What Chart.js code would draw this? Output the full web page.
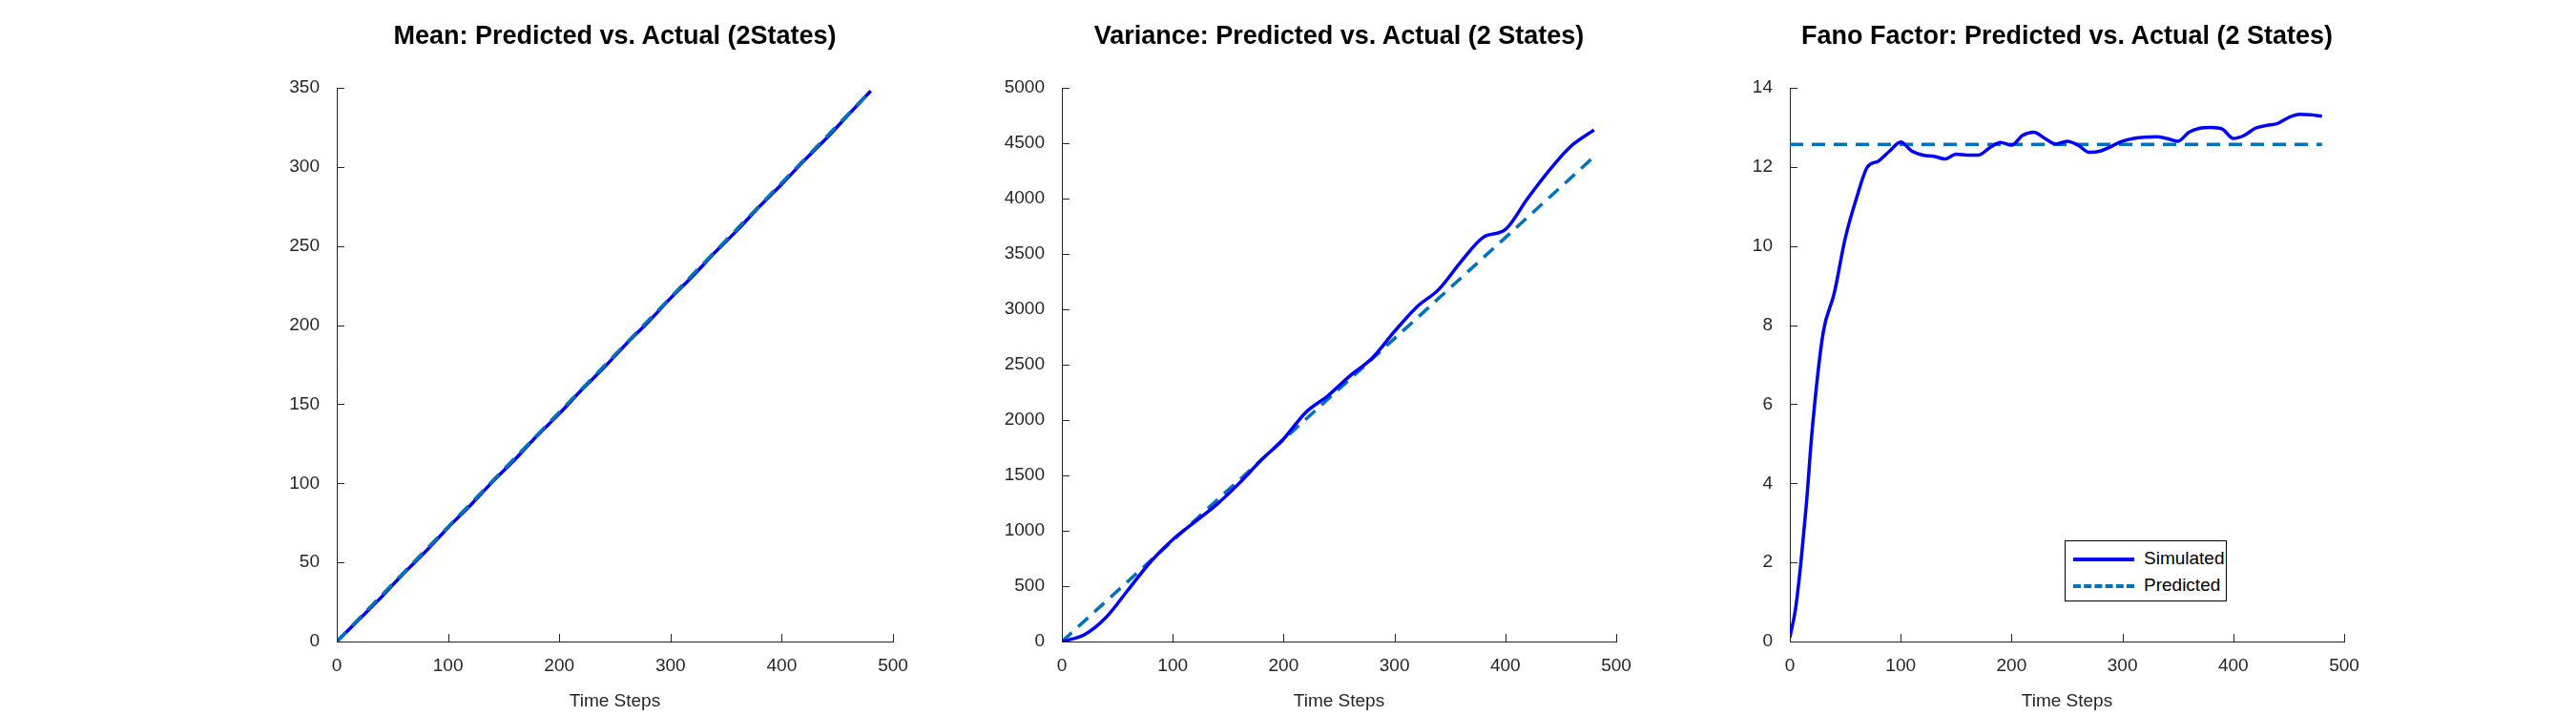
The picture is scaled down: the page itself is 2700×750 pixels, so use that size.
<!DOCTYPE html>
<html>
<head>
<meta charset="utf-8">
<script src="https://cdn.jsdelivr.net/npm/chart.js@4"></script>
<style>
  body { margin: 0; background: #fff; width: 2700px; height: 750px; position: relative; overflow: hidden; font-family: "Liberation Sans", Arial, sans-serif; }
  .box { position: absolute; top: 0; height: 750px; }
  .ttl { position: absolute; top: 22px; font-weight: bold; font-size: 27px; color: #000; text-align: center; white-space: nowrap; }
  .legend { position: absolute; left: 2164px; top: 566px; width: 168px; height: 62px; border: 1px solid #000; background: #fff; font-size: 19px; color: #000; }
  .legend div { position: absolute; left: 82px; }
  .legend span { position: absolute; left: 8px; width: 64px; }
</style>
</head>
<body>
<div class="box" id="b1"><canvas id="c1"></canvas></div>
<div class="box" id="b2"><canvas id="c2"></canvas></div>
<div class="box" id="b3"><canvas id="c3"></canvas></div>
<div class="ttl" id="t1">Mean: Predicted vs. Actual (2States)</div>
<div class="ttl" id="t2">Variance: Predicted vs. Actual (2 States)</div>
<div class="ttl" id="t3">Fano Factor: Predicted vs. Actual (2 States)</div>
<div class="legend">
  <span style="top:17px;border-top:4px solid #0000FF"></span><div style="top:7px">Simulated</div>
  <span style="top:45px;border-top:4px dashed #0072BD"></span><div style="top:35px">Predicted</div>
</div>
<script>
const stepsCoarse = [0,20,40,60,80,100,120,140,160,180,200,220,240,260,280,300,320,340,360,380,400,420,440,460,480];
const meanSim = [0,14,28,43,57,72,86,101,115,130,144,159,173,188,202,217,231,246,260,275,289,304,318,333,348];
const meanPred = [0,14.5,29,43.5,58,72.5,87,101.5,116,130.5,145,159.5,174,188.5,203,217.5,232,246.5,261,275.5,290,304.5,319,333.5,348];
const varSim = [0,60,220,470,720,920,1080,1240,1430,1640,1830,2070,2220,2400,2560,2800,3020,3180,3430,3650,3720,4000,4260,4480,4620];
const varPred = [0,182,365,547,730,912,1094,1277,1459,1642,1824,2006,2189,2371,2554,2736,2918,3101,3283,3466,3648,3830,4013,4195,4378];
const stepsFine = [0,5,10,15,20,30,40,50,60,70,80,90,100,110,120,130,140,150,160,170,180,190,200,210,220,230,240,250,260,270,280,290,300,310,320,330,340,350,360,370,380,390,400,410,420,430,440,450,460,470,480];
const fanoSim = [0.1,0.8,2.0,3.5,5.3,7.8,8.8,10.2,11.2,12.0,12.15,12.4,12.63,12.4,12.3,12.27,12.2,12.32,12.3,12.3,12.48,12.62,12.55,12.8,12.88,12.72,12.58,12.65,12.55,12.37,12.4,12.52,12.65,12.72,12.75,12.76,12.72,12.65,12.88,12.98,13.0,12.96,12.72,12.8,12.98,13.05,13.1,13.25,13.33,13.32,13.28];
const fanoPredX = [0,480];
const fanoPred = [12.57,12.57];

const plots = [
  {id:'1', left:353, right:936, yMax:350, yStep:50, x1:stepsCoarse, s:meanSim, x2:stepsCoarse, p:meanPred, predTop:true},
  {id:'2', left:1113, right:1694, yMax:5000, yStep:500, x1:stepsCoarse, s:varSim, x2:stepsCoarse, p:varPred, predTop:false},
  {id:'3', left:1876, right:2457, yMax:14, yStep:2, x1:stepsFine, s:fanoSim, x2:fanoPredX, p:fanoPred, predTop:false}
];

const LEFTW = 100, RIGHTW = 40, TOP = 92, BOTTOMH = 78;
const font = {family: '"Liberation Sans", Arial, sans-serif', size: 19};

// MATLAB style inward ticks
const inTicks = {
  id: 'inTicks',
  afterDraw(chart) {
    const c = chart.ctx, a = chart.chartArea;
    c.save();
    c.strokeStyle = '#262626';
    c.lineWidth = 1;
    chart.scales.x.ticks.forEach((t, i) => {
      const px = Math.round(chart.scales.x.getPixelForTick(i)) + 0.5;
      c.beginPath(); c.moveTo(px, a.bottom); c.lineTo(px, a.bottom - 8); c.stroke();
    });
    chart.scales.y.ticks.forEach((t, i) => {
      const py = Math.round(chart.scales.y.getPixelForTick(i)) + 0.5;
      c.beginPath(); c.moveTo(a.left, py); c.lineTo(a.left + 8, py); c.stroke();
    });
    c.restore();
  }
};

plots.forEach(pl => {
  const box = document.getElementById('b' + pl.id);
  box.style.left = (pl.left - LEFTW) + 'px';
  box.style.width = (pl.right - pl.left + LEFTW + RIGHTW) + 'px';
  const t = document.getElementById('t' + pl.id);
  t.style.left = pl.left + 'px';
  t.style.width = (pl.right - pl.left) + 'px';

  new Chart(document.getElementById('c' + pl.id), {
    type: 'line',
    data: {
      datasets: [
        {label: 'Simulated', data: pl.x1.map((x, i) => ({x: x, y: pl.s[i]})), order: pl.predTop ? 1 : 0,
         borderColor: '#0000FF', borderWidth: 3.5, pointRadius: 0, tension: 0.4, cubicInterpolationMode: 'monotone'},
        {label: 'Predicted', data: pl.x2.map((x, i) => ({x: x, y: pl.p[i]})), order: pl.predTop ? 0 : 1,
         borderColor: '#0072BD', borderWidth: 3.5, borderDash: [14, 9], pointRadius: 0}
      ]
    },
    options: {
      responsive: true,
      maintainAspectRatio: false,
      animation: false,
      layout: {padding: {top: TOP, right: RIGHTW, left: 0, bottom: 0}},
      plugins: {legend: {display: false}, tooltip: {enabled: false}},
      scales: {
        x: {
          type: 'linear', min: 0, max: 500,
          afterFit: s => { s.height = BOTTOMH; },
          ticks: {stepSize: 100, color: '#262626', font: font, padding: 6, maxRotation: 0, callback: v => String(v)},
          grid: {display: false},
          border: {color: '#262626', width: 1},
          title: {display: true, text: 'Time Steps', color: '#262626', font: font, padding: {top: 2}}
        },
        y: {
          min: 0, max: pl.yMax,
          afterFit: s => { s.width = LEFTW; },
          ticks: {stepSize: pl.yStep, color: '#262626', font: font, padding: 10, callback: v => String(v)},
          grid: {display: false},
          border: {color: '#262626', width: 1}
        }
      }
    },
    plugins: [inTicks]
  });
});
</script>
</body>
</html>
